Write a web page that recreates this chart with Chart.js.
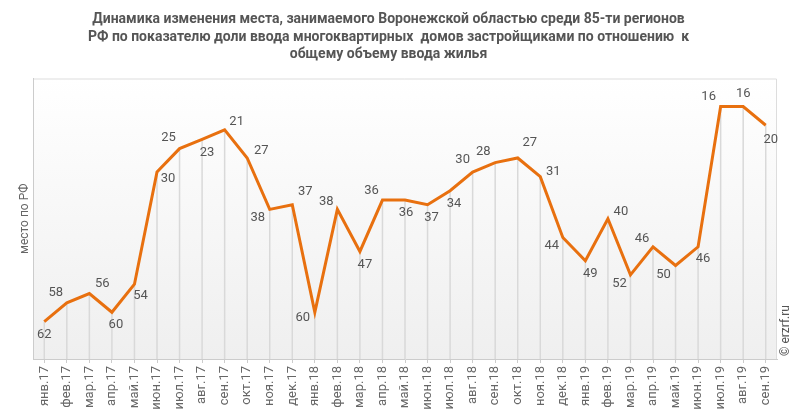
<!DOCTYPE html>
<html>
<head>
<meta charset="utf-8">
<script src="https://cdn.jsdelivr.net/npm/chart.js@4"></script>
<style>
  html, body { margin: 0; padding: 0; background: #fff; }
  #wrap { width: 793px; height: 415px; }
</style>
</head>
<body>
<div id="wrap"><canvas id="chart" width="793" height="415"></canvas></div>
<script>
// Place of the Voronezh region among 85 regions, by month
const months = [
  'янв.17', 'фев.17', 'мар.17', 'апр.17', 'май.17', 'июн.17', 'июл.17', 'авг.17', 'сен.17', 'окт.17', 'ноя.17', 'дек.17',
  'янв.18', 'фев.18', 'мар.18', 'апр.18', 'май.18', 'июн.18', 'июл.18', 'авг.18', 'сен.18', 'окт.18', 'ноя.18', 'дек.18',
  'янв.19', 'фев.19', 'мар.19', 'апр.19', 'май.19', 'июн.19', 'июл.19', 'авг.19', 'сен.19'
];
const places = [
  62, 58, 56, 60, 54, 30, 25, 23, 21, 27, 38, 37,
  60, 38, 47, 36, 36, 37, 34, 30, 28, 27, 31, 44,
  49, 40, 52, 46, 50, 46, 16, 16, 20
];

const titleLines = [
  'Динамика изменения места, занимаемого Воронежской областью среди 85-ти регионов',
  'РФ по показателю доли ввода многоквартирных  домов застройщиками по отношению  к',
  'общему объему ввода жилья'
];

// where each value label sits relative to its point (px)
const labelShift = [
  [0, 13], [-11, -10], [13, -10], [4, 12], [6, 12], [11, 7], [-11, -11], [5, 13], [12, -8], [14, -7], [-12, 8], [13, -13],
  [-12, 5], [-11, -8], [5, 13], [-11, -9], [1, 13], [4, 13], [4, 13], [-10, -12], [-12, -11], [12, -15], [13, -5], [-11, 8],
  [5, 13], [13, -7], [-11, 9], [-11, -8], [-12, 9], [5, 12], [-12, -10], [0, -13], [5, 14]
];

const plotDecor = {
  id: 'plotDecor',
  beforeDraw(chart) {
    const { ctx, chartArea: a } = chart;
    const g = ctx.createLinearGradient(0, a.top, 0, a.bottom);
    g.addColorStop(0, '#ffffff');
    g.addColorStop(1, '#efefef');
    ctx.save();
    ctx.fillStyle = g;
    ctx.fillRect(a.left, a.top, a.right - a.left, a.bottom - a.top);
    ctx.strokeStyle = '#dddddd';
    ctx.lineWidth = 1;
    ctx.beginPath();
    ctx.moveTo(a.left, a.top + 0.5);
    ctx.lineTo(a.right - 0.5, a.top + 0.5);
    ctx.lineTo(a.right - 0.5, a.bottom);
    ctx.stroke();
    ctx.restore();
  },
  beforeDatasetsDraw(chart) {
    // drop lines from each point to the axis
    const { ctx, chartArea: a } = chart;
    const meta = chart.getDatasetMeta(0);
    ctx.save();
    ctx.strokeStyle = '#d9d9d9';
    ctx.lineWidth = 1.5;
    meta.data.forEach(p => {
      ctx.beginPath();
      ctx.moveTo(p.x, p.y);
      ctx.lineTo(p.x, a.bottom);
      ctx.stroke();
    });
    ctx.restore();
  },
  afterDatasetsDraw(chart) {
    const { ctx } = chart;
    const meta = chart.getDatasetMeta(0);
    ctx.save();
    ctx.font = '13px Roboto';
    ctx.fillStyle = '#555555';
    ctx.textAlign = 'center';
    ctx.textBaseline = 'middle';
    meta.data.forEach((p, i) => {
      const s = labelShift[i];
      ctx.fillText(String(places[i]), p.x + s[0], p.y + s[1]);
    });
    // copyright
    ctx.translate(786, 356);
    ctx.rotate(-Math.PI / 2);
    ctx.font = '12px Roboto';
    ctx.textAlign = 'left';
    ctx.fillStyle = '#555555';
    ctx.fillText('© erzrf.ru', 0, 0);
    ctx.restore();
  }
};

new Chart(document.getElementById('chart'), {
  type: 'line',
  data: {
    labels: months,
    datasets: [{
      data: places,
      borderColor: '#e8700f',
      borderWidth: 3,
      pointRadius: 0,
      tension: 0,
      fill: false
    }]
  },
  options: {
    responsive: false,
    animation: false,
    layout: { padding: { left: 0, right: 16, top: 0, bottom: 0 } },
    plugins: {
      legend: { display: false },
      tooltip: { enabled: false },
      title: {
        display: true,
        text: titleLines,
        color: '#555555',
        font: { family: 'Roboto', size: 14, weight: 'bold', lineHeight: 1.25 },
        padding: { top: 11, bottom: 15 }
      }
    },
    scales: {
      x: {
        offset: true,
        grid: { drawOnChartArea: false, drawTicks: true, tickLength: 4, color: '#cccccc' },
        border: { color: '#cccccc' },
        ticks: {
          color: '#666666',
          font: { family: 'Roboto', size: 13 },
          minRotation: 90,
          maxRotation: 90,
          autoSkip: false,
          padding: 3
        },
        afterFit(scale) { scale.height = 56; }
      },
      y: {
        reverse: true,
        min: 10,
        max: 70,
        grid: { display: false },
        border: { color: '#cccccc' },
        ticks: { display: false },
        title: {
          display: true,
          text: 'место по РФ',
          color: '#666666',
          font: { family: 'Roboto', size: 12 },
          padding: { top: 18, bottom: 0 }
        },
        afterFit(scale) { scale.width = 33; }
      }
    }
  },
  plugins: [plotDecor]
});
</script>
</body>
</html>
